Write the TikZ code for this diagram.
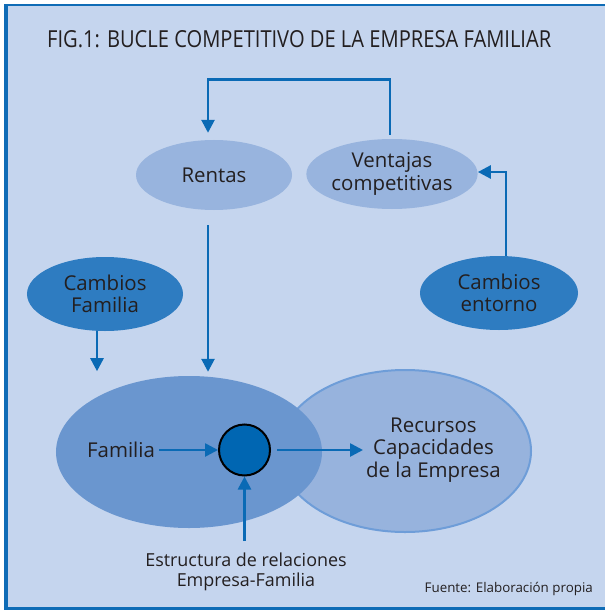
\documentclass[tikz,border=0pt]{standalone}
\usepackage{fontspec}
\setmainfont{Open Sans}
\usetikzlibrary{shapes.geometric,arrows.meta,calc}
\definecolor{bgblue}{HTML}{C5D5EE}
\definecolor{frameblue}{HTML}{0F6CB6}
\definecolor{lightell}{HTML}{98B4DE}
\definecolor{darkell}{HTML}{2E7CC1}
\definecolor{famell}{HTML}{6A96CF}
\definecolor{recell}{HTML}{97B3DD}
\definecolor{recline}{HTML}{6E9DD8}
\definecolor{arrblue}{HTML}{0A6AB5}
\definecolor{circblue}{HTML}{0066B2}
\definecolor{txt}{HTML}{231F20}
\tikzset{
  ell/.style={ellipse, draw=none, inner sep=0pt, text=txt, align=center, font=\fontsize{20.5}{22.5}\selectfont},
  lbl/.style={text=txt, align=center, inner sep=0pt},
  arr/.style={draw=arrblue, line width=2.6bp, -{Triangle[length=13bp,width=13bp]}},
}
\begin{document}
\begin{tikzpicture}[x=1bp,y=-1bp]
\useasboundingbox (0,0) rectangle (605,610);
% frame
\fill[white] (0,0) rectangle (605,610);
\fill[bgblue] (4,4) rectangle (605,608);
\fill[frameblue] (4,4) rectangle (605,6.5);
\fill[frameblue] (4,4) rectangle (7.5,610);
\fill[frameblue] (4,607) rectangle (605,610);
% title
\node[lbl, anchor=west] (title) at (47,39) {\resizebox{504bp}{17bp}{FIG.1: BUCLE COMPETITIVO DE LA EMPRESA FAMILIAR}};
% upper ellipses
\node[ell, fill=lightell, minimum width=156bp, minimum height=70bp] (rentas) at (214,175) {Rentas};
\node[ell, fill=lightell, minimum width=158bp, minimum height=70bp] (ventajas) at (392,174) {Ventajas\\competitivas};
\node[ell, fill=darkell, minimum width=156bp, minimum height=74bp] (cfam) at (105,294) {Cambios\\Familia};
\node[ell, fill=darkell, minimum width=158bp, minimum height=74bp] (centorno) at (499,293) {Cambios\\entorno};
% lower ellipses
\node[ellipse, fill=recell, draw=recline, line width=2bp, minimum width=252bp, minimum height=162bp] (recE) at (405,451) {};
\node[ellipse, fill=famell, minimum width=266bp, minimum height=152bp] (famE) at (189,452) {};
\node[circle, fill=circblue, draw=black, line width=2bp, minimum size=51bp, inner sep=0pt] (circ) at (244.5,450) {};
% texts
\node[lbl, font=\fontsize{20.5}{22.5}\selectfont] (famtxt) at (121,450) {Familia};
\node[lbl, font=\fontsize{20.5}{22.5}\selectfont, anchor=west] (rectxt) at (366,450) {Recursos\\Capacidades\\de la Empresa};
\node[lbl, font=\fontsize{18}{19.5}\selectfont] (estr) at (246,572) {Estructura de relaciones\\Empresa-Familia};
\node[lbl, font=\fontsize{13.4}{15}\selectfont, anchor=east] (fuente) at (593,589) {Fuente: Elaboración propia};
% connectors
\coordinate (rstart) at (208,225);
\draw[arr] (ventajas.north) ++(-2,-4) -- ++(0,-55) -| ($(rentas.north)+(-6,-7)$);
\draw[arr] ($(centorno.north)+(7,0)$) |- ($(ventajas.east)+(0,-2)$);
\draw[arr] ($(cfam.south)+(-8,0)$) -- ++(0,40);
\draw[arr] (rstart) -- ($(rstart |- famE.north)+(0,-4)$);
\draw[arr, shorten <=4bp] (famtxt.east) -- (famtxt.east -| circ.west);
\draw[arr, shorten <=6bp, shorten >=3bp] (circ.east) -- (circ.east -| rectxt.west);
\draw[arr, shorten <=12bp] (estr.north -| circ.south) -- (circ.south);
\end{tikzpicture}
\end{document}
